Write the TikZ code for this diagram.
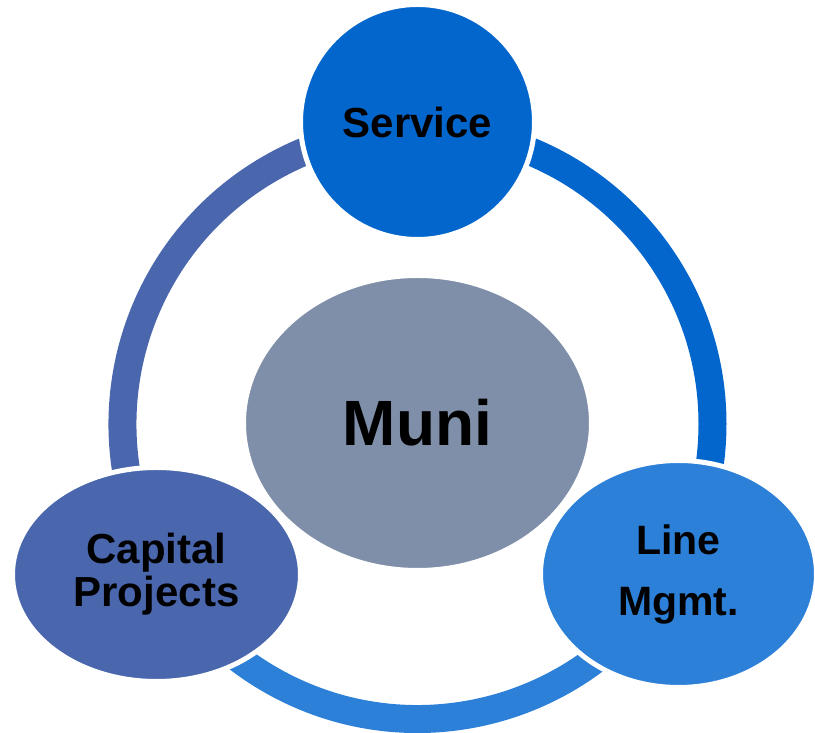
\documentclass[tikz,border=0pt]{standalone}
\usepackage{fontspec}
\setmainfont{Liberation Sans}
\usetikzlibrary{shapes.geometric}
\definecolor{cService}{HTML}{0366CC}
\definecolor{cLine}{HTML}{2C80D7}
\definecolor{cCapital}{HTML}{4A67AE}
\definecolor{cMuni}{HTML}{7F8FA9}
\tikzset{
  ringseg/.style={line width=28pt, line cap=butt},
  bubble/.style={ellipse, draw=white, line width=5pt, inner sep=0pt, align=center, text=black, font=\bfseries},
}
\begin{document}
\begin{tikzpicture}[x=1pt,y=1pt]
\useasboundingbox (0,0) rectangle (815,733);
\coordinate (c) at (417.5,309);
% ring segments
\draw[ringseg, cService] ([shift={(90:295)}]c) arc[start angle=90, end angle=-30, radius=295];
\draw[ringseg, cLine] ([shift={(-30:295)}]c) arc[start angle=-30, end angle=-150, radius=295];
\draw[ringseg, cCapital] ([shift={(210:295)}]c) arc[start angle=210, end angle=90, radius=295];
% nodes
\node[bubble, fill=cMuni, minimum width=348pt, minimum height=295pt, font=\bfseries\fontsize{64}{70}\selectfont] (muni) at (417.5,310) {Muni};
\node[bubble, fill=cService, minimum width=234pt, minimum height=235pt, font=\bfseries\fontsize{42}{46}\selectfont] (service) at (417.5,611) {Service};
\node[bubble, fill=cCapital, minimum width=288pt, minimum height=214pt, font=\bfseries\fontsize{42}{43}\selectfont] (capital) at (156.5,158.5) {Capital\\Projects};
\node[bubble, fill=cLine, minimum width=276pt, minimum height=227pt, font=\bfseries\fontsize{41}{61}\selectfont] (line) at (678.5,159) {Line\\Mgmt.};
\end{tikzpicture}
\end{document}
